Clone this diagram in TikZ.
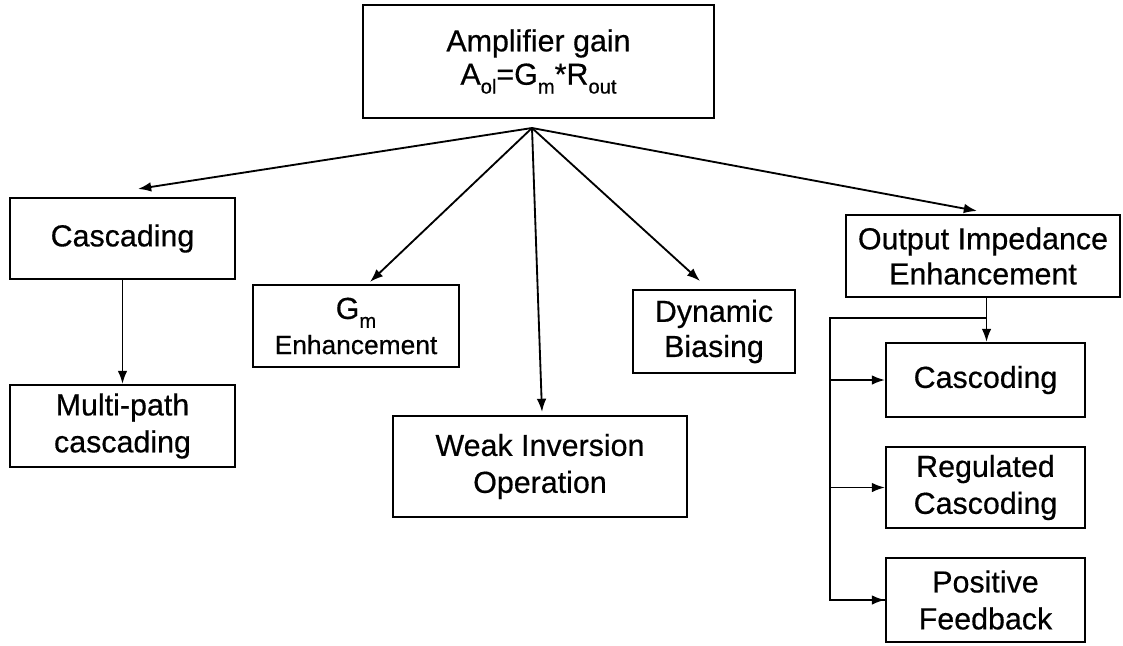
\documentclass[tikz,border=0pt]{standalone}
\usepackage{fontspec}
\setmainfont{Liberation Sans}[FakeBold=0.5,AutoFakeBold=0.5]
\usetikzlibrary{graphs,arrows.meta,calc}

\newcommand\lowtext[1]{\raisebox{-0.55ex}{\fontsize{11.5}{11.5}\selectfont #1}}

\tikzset{
  box/.style={draw,line width=1.2pt,inner sep=0pt,align=center},
  link/.style={line width=1.05pt}
}

\begin{document}
\begin{tikzpicture}[font=\fontsize{17.3}{21}\selectfont\bfseries,align=center,
  >={Latex[length=7.5pt,width=5.5pt]}]
\useasboundingbox (0,0) rectangle (22.46,-12.90);
\graph [no placement,nodes=box,edges={link}]
{
       gain[x=10.77,y=- 1.23,minimum width=7.02cm,minimum height=2.26cm,
            as={\raisebox{-2pt}{Amplifier gain} \\ A\lowtext{ol}=G\lowtext{m}*R\lowtext{out}}],

  cascading[x= 2.45,y=- 4.77,minimum width=4.50cm,minimum height=1.62cm,as=Cascading],
  multipath[x= 2.45,y=- 8.52,minimum width=4.50cm,minimum height=1.64cm,as={Multi-path \\ cascading}],
         gm[x= 7.12,y=- 6.52,minimum width=4.12cm,minimum height=1.64cm,
            as={G\lowtext{m} \\[-1pt] {\fontsize{15}{18}\selectfont Enhancement}}],
       weak[x=10.80,y=- 9.33,minimum width=5.88cm,minimum height=2.02cm,as={Weak Inversion \\ Operation}],
    dynamic[x=14.28,y=- 6.63,minimum width=3.24cm,minimum height=1.66cm,as={Dynamic \\[-1pt] Biasing}],
     outimp[x=19.66,y=- 5.12,minimum width=5.48cm,minimum height=1.64cm,as={Output Impedance \\[-1pt] Enhancement}],

     cascod[x=19.71,y=- 7.60,minimum width=3.98cm,minimum height=1.48cm,as=Cascoding],
     regcas[x=19.71,y=- 9.75,minimum width=3.98cm,minimum height=1.62cm,as={Regulated \\ Cascoding}],
      posfb[x=19.71,y=-12.00,minimum width=3.98cm,minimum height=1.68cm,as={Positive \\ Feedback}],

  cascading -> multipath
};

% fan of arrows below the gain box
\coordinate (fan) at (10.64,-2.56);
\foreach \n/\dx/\dy in {cascading/0.31/0.16, gm/0.28/0.04, weak/0.04/0.06,
                        dynamic/-0.28/0.16, outimp/-0.12/0.06}
  \draw[link,->] (fan) -- ($(\n.north)+(\dx,\dy)$);

% output impedance branches
\coordinate (bus) at (16.60,-6.36);
\draw[link,->] ([xshift=2pt]outimp.south) -- ([xshift=2pt]outimp.south |- cascod.north);
\draw[link] ([xshift=2pt]outimp.south |- bus) -- (bus) |- (posfb.west);
\draw[link,->] (bus |- posfb.west) -- (posfb.west);
\draw[link,->] (bus |- cascod.west) -- (cascod.west);
\draw[link,->] (bus |- regcas.west) -- (regcas.west);
\end{tikzpicture}
\end{document}
